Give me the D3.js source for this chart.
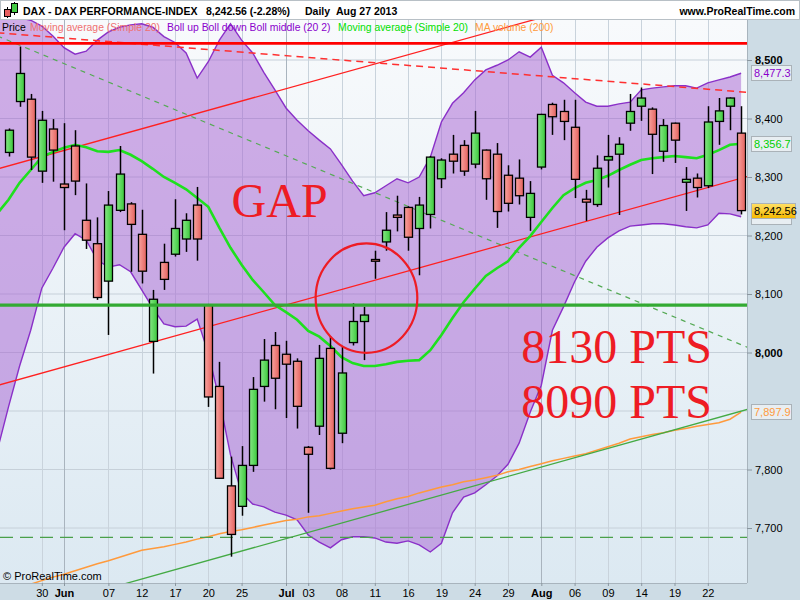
<!DOCTYPE html>
<html><head><meta charset="utf-8">
<script src="https://cdn.jsdelivr.net/npm/d3@7"></script>
<style>
body{margin:0;background:#fff;}
svg{display:block;font-family:"Liberation Sans",Arial,sans-serif;}
</style>
</head><body>
<svg id="c" width="800" height="600"></svg>
<script>
// ---------- DATA ----------
const dates = ["2013-05-24","2013-05-27","2013-05-28","2013-05-29","2013-05-30","2013-05-31",
"2013-06-03","2013-06-04","2013-06-05","2013-06-06","2013-06-07",
"2013-06-10","2013-06-11","2013-06-12","2013-06-13","2013-06-14",
"2013-06-17","2013-06-18","2013-06-19","2013-06-20","2013-06-21",
"2013-06-24","2013-06-25","2013-06-26","2013-06-27","2013-06-28",
"2013-07-01","2013-07-02","2013-07-03","2013-07-04","2013-07-05",
"2013-07-08","2013-07-09","2013-07-10","2013-07-11","2013-07-12",
"2013-07-15","2013-07-16","2013-07-17","2013-07-18","2013-07-19",
"2013-07-22","2013-07-23","2013-07-24","2013-07-25","2013-07-26",
"2013-07-29","2013-07-30","2013-07-31","2013-08-01","2013-08-02",
"2013-08-05","2013-08-06","2013-08-07","2013-08-08","2013-08-09",
"2013-08-12","2013-08-13","2013-08-14","2013-08-15","2013-08-16",
"2013-08-19","2013-08-20","2013-08-21","2013-08-22","2013-08-23",
"2013-08-26","2013-08-27"];
const open  = [null,8342,8429,8433,8310,8382,8288,8353,8226,8186,8122,8243,8254,8202,8019,8154,8168,8194,8252,8081,7942,7772,7737,7807,7942,8012,7997,7985,7838,7874,8007,7862,8017,8053,8159,8189,8235,8248,8212,8236,8297,8339,8354,8322,8346,8339,8303,8298,8231,8317,8424,8412,8385,8262,8253,8329,8339,8392,8421,8416,8344,8392,8291,8298,8285,8395,8421,8375];
const high  = [null,8383,8523,8442,8413,8399,8392,8380,8289,8231,8276,8353,8257,8244,8107,8186,8262,8238,8283,8083,7984,7822,7840,7958,8023,8035,8020,7990,7840,8013,8028,8010,8084,8078,8174,8240,8268,8250,8266,8336,8332,8372,8363,8413,8347,8358,8320,8330,8293,8408,8427,8432,8432,8278,8337,8372,8368,8442,8453,8419,8399,8393,8317,8306,8421,8435,8436,8421];
const low   = [null,8335,8420,8312,8290,8292,8209,8269,8177,8090,8030,8240,8138,8118,7964,8107,8164,8172,8157,7907,7784,7651,7721,7796,7916,7903,7888,7870,7726,7859,7800,7845,8012,7987,8126,8174,8207,8174,8132,8212,8281,8306,8302,8315,8261,8213,8241,8253,8208,8313,8372,8363,8264,8225,8249,8282,8235,8379,8396,8305,8326,8324,8242,8265,8281,8355,8380,8236];
const close = [null,8380,8477,8334,8397,8346,8282,8293,8192,8094,8252,8305,8219,8139,8091,8125,8212,8226,8194,7924,7785,7689,7807,7937,7987,7956,7980,7908,7826,7990,7802,7965,8053,8064,8156,8209,8231,8197,8252,8334,8329,8327,8310,8375,8297,8241,8255,8268,8272,8407,8403,8395,8296,8257,8315,8335,8356,8412,8435,8373,8388,8363,8296,8282,8394,8413,8435,8242.56];
const bollUp   = [8572,8572,8572,8568,8558,8541,8521,8510,8515,8534,8548,8556,8560,8562,8556,8540,8530,8512,8469,8497,8534,8562,8534,8512,8479,8449,8418,8397,8379,8363,8348,8321,8293,8268,8273,8285,8297,8290,8300,8334,8394,8426,8444,8466,8483,8491,8500,8514,8505,8522,8474,8461,8444,8428,8421,8421,8425,8428,8449,8452,8454,8456,8456,8452,8461,8466,8471,8477.3];
const bollDown = [7833,7907,7977,8038,8110,8144,8180,8203,8192,8158,8146,8150,8138,8107,8076,8049,8044,8045,8057,7999,7919,7825,7760,7741,7736,7727,7722,7714,7688,7676,7666,7680,7685,7685,7683,7676,7674,7678,7671,7659,7674,7726,7753,7760,7774,7789,7809,7845,7898,7944,8038,8078,8121,8156,8180,8196,8208,8216,8218,8220,8220,8218,8215,8213,8218,8238,8237,8232];
const ma20     = [8238,8261,8290,8312,8334,8343,8350,8355,8351,8344,8343,8346,8338,8327,8314,8300,8290,8279,8264,8249,8213,8179,8150,8124,8103,8081,8069,8056,8037,8027,8011,7992,7982,7977,7977,7980,7984,7986,7987,8004,8030,8059,8086,8109,8131,8144,8156,8179,8199,8223,8247,8269,8281,8290,8295,8302,8312,8321,8329,8332,8334,8336,8334,8332,8338,8346,8355,8356.7];
const maVol200 = [7589,7594,7599,7604,7610,7616,7621,7627,7633,7639,7644,7650,7656,7662,7665,7668,7672,7676,7681,7685,7690,7694,7697,7701,7705,7709,7713,7715,7719,7721,7725,7729,7733,7736,7739,7745,7750,7754,7760,7765,7770,7774,7779,7782,7786,7790,7796,7800,7805,7810,7815,7819,7823,7827,7833,7839,7845,7852,7856,7860,7863,7867,7870,7874,7877,7880,7886,7897.9];
const yGrid  = [7700,7800,7900,8000,8100,8200,8300,8400,8500];
const yTicks = [7700,7800,8000,8100,8200,8300,8400,8500];
const yBold = [8000,8500];
const xTickDates  = ["2013-05-30","2013-06-03","2013-06-07","2013-06-12","2013-06-17","2013-06-20","2013-06-25","2013-07-01","2013-07-03","2013-07-08","2013-07-11","2013-07-16","2013-07-19","2013-07-24","2013-07-29","2013-08-01","2013-08-06","2013-08-09","2013-08-14","2013-08-19","2013-08-22"];
const xTickLabels = ["30","Jun","07","12","17","20","25","Jul","03","08","11","16","19","24","29","Aug","06","09","14","19","22"];
const monthLabels = ["Jun","Jul","Aug"];
// drawn trend lines: [index position, value]
const redTrendUp   = [[0,8313.8],[68,8672.6]];
const redTrendLow  = [[0,7943.7],[68,8303.2]];
const redDashed    = [[0,8546.6],[68,8444.0]];
const greenDashed  = [[0,8541.1],[68,8005.5]];
const greenTrend   = [[11,7602.1],[68,7905.1]];
const levelRed = 8528.5, levelGreen = 8081, levelGreenDash = 7684;
const gapCircle = {i:33.25, v:8093, di:4.58, dv:93.5};
const notes = [{t:"GAP", i:21.1, v:8231.6},{t:"8130 PTS", i:47.2, v:7981.5},{t:"8090 PTS", i:47.2, v:7887.5}];

// ---------- LAYOUT ----------
const W=800,H=600, PL=0, PR=747, PT=20, PB=583;
const svg = d3.select("#c");
const xi = d3.scaleLinear().domain([0, dates.length-1]).range([-2.6, 741.1]);
const x = d => xi(dates.indexOf(d));
const y = d3.scaleLinear().domain([7700,8500]).range([528,60]);

const defs = svg.append("defs");
const bg = defs.append("linearGradient").attr("id","bg").attr("x1",0).attr("y1",0).attr("x2",0).attr("y2",1);
bg.append("stop").attr("offset","0%").attr("stop-color","#f8fafc");
bg.append("stop").attr("offset","100%").attr("stop-color","#dce9f2");
const gG = defs.append("linearGradient").attr("id","gG");
gG.append("stop").attr("offset","0%").attr("stop-color","#86e886");
gG.append("stop").attr("offset","100%").attr("stop-color","#3cc83c");
const gR = defs.append("linearGradient").attr("id","gR");
gR.append("stop").attr("offset","0%").attr("stop-color","#f9a4a0");
gR.append("stop").attr("offset","100%").attr("stop-color","#e4625e");
const gY = defs.append("linearGradient").attr("id","gY").attr("x1",0).attr("y1",0).attr("x2",0).attr("y2",1);
gY.append("stop").attr("offset","0%").attr("stop-color","#ffe066");
gY.append("stop").attr("offset","100%").attr("stop-color","#f5b800");
defs.append("clipPath").attr("id","clip").append("rect").attr("x",PL).attr("y",PT).attr("width",PR-PL).attr("height",PB-PT);

// panels
svg.append("rect").attr("x",0).attr("y",0).attr("width",W).attr("height",H).attr("fill","#cddce5");
svg.append("rect").attr("x",PL).attr("y",PT).attr("width",PR-PL).attr("height",PB-PT).attr("fill","url(#bg)");

const plot = svg.append("g").attr("clip-path","url(#clip)");

// grid
plot.selectAll("line.hg").data(yGrid).join("line")
  .attr("x1",PL).attr("x2",PR).attr("y1",d=>y(d)).attr("y2",d=>y(d))
  .attr("stroke","#c6d0d9").attr("stroke-width",1);
plot.selectAll("line.vg").data(xTickDates).join("line")
  .attr("x1",d=>Math.round(x(d))+0.5).attr("x2",d=>Math.round(x(d))+0.5).attr("y1",PT).attr("y2",PB)
  .attr("stroke",(d,i)=>monthLabels.includes(xTickLabels[i])?"#a9b4be":"#c9d3dc").attr("stroke-width",1);

// bollinger band
const idx = d3.range(dates.length);
plot.append("path").datum(idx)
  .attr("d", d3.area().x(i=>xi(i)).y0(i=>y(bollDown[i])).y1(i=>y(bollUp[i])))
  .attr("fill","rgb(165,95,210)").attr("fill-opacity",0.5);
plot.append("path").datum(idx).attr("d", d3.line().x(i=>xi(i)).y(i=>y(bollUp[i]))).attr("fill","none").attr("stroke","#8a30c8").attr("stroke-width",1.4);
plot.append("path").datum(idx).attr("d", d3.line().x(i=>xi(i)).y(i=>y(bollDown[i]))).attr("fill","none").attr("stroke","#8a30c8").attr("stroke-width",1.4);

// lines
const seg = d3.line().x(p=>xi(p[0])).y(p=>y(p[1]));
plot.append("path").datum(idx).attr("d", d3.line().x(i=>xi(i)).y(i=>y(maVol200[i]))).attr("fill","none").attr("stroke","#ff9a3c").attr("stroke-width",1.5);
plot.append("path").datum(greenTrend).attr("d",seg).attr("fill","none").attr("stroke","#44aa44").attr("stroke-width",1.3);
plot.append("line").attr("x1",PL).attr("x2",PR).attr("y1",y(levelGreenDash)).attr("y2",y(levelGreenDash))
  .attr("stroke","#4aa04a").attr("stroke-width",1.2).attr("stroke-dasharray","13,7");
plot.append("path").datum(greenDashed).attr("d",seg).attr("fill","none").attr("stroke","#55aa55").attr("stroke-width",1.2).attr("stroke-dasharray","5,5");
plot.append("path").datum(redDashed).attr("d",seg).attr("fill","none").attr("stroke","#ff3030").attr("stroke-width",1.5).attr("stroke-dasharray","7,5");
plot.append("path").datum(redTrendUp).attr("d",seg).attr("fill","none").attr("stroke","#ff2020").attr("stroke-width",1.3);
plot.append("path").datum(redTrendLow).attr("d",seg).attr("fill","none").attr("stroke","#ff2020").attr("stroke-width",1.3);
plot.append("path").datum(idx).attr("d", d3.line().x(i=>xi(i)).y(i=>y(ma20[i]))).attr("fill","none").attr("stroke","#1ee01e").attr("stroke-width",2.6);

// candles
const cdata = idx.filter(i=>open[i]!=null);
const cg = plot.append("g");
cg.selectAll("line.w").data(cdata).join("line")
  .attr("x1",i=>Math.round(xi(i))+0.5).attr("x2",i=>Math.round(xi(i))+0.5)
  .attr("y1",i=>y(high[i])).attr("y2",i=>y(low[i]))
  .attr("stroke","#000").attr("stroke-width",1.5);
cg.selectAll("rect.b").data(cdata).join("rect")
  .attr("x",i=>Math.round(xi(i))+0.5-4).attr("width",8)
  .attr("y",i=>y(Math.max(open[i],close[i])))
  .attr("height",i=>Math.max(1.5,Math.abs(y(open[i])-y(close[i]))))
  .attr("fill",i=>close[i]>=open[i]?"url(#gG)":"url(#gR)")
  .attr("stroke","#000").attr("stroke-width",1.3);

// horizontal levels
plot.append("line").attr("x1",PL).attr("x2",PR).attr("y1",y(levelRed)).attr("y2",y(levelRed)).attr("stroke","#ff0000").attr("stroke-width",2.6);
plot.append("line").attr("x1",PL).attr("x2",PR).attr("y1",y(levelGreen)).attr("y2",y(levelGreen)).attr("stroke","#33aa33").attr("stroke-width",3.2);

// circle
plot.append("ellipse").attr("cx",xi(gapCircle.i)).attr("cy",y(gapCircle.v))
  .attr("rx",xi(gapCircle.i+gapCircle.di)-xi(gapCircle.i)).attr("ry",y(gapCircle.v-gapCircle.dv)-y(gapCircle.v))
  .attr("fill","none").attr("stroke","#ee1c24").attr("stroke-width",2.2);

// notes
plot.selectAll("text.n").data(notes).join("text")
  .attr("x",d=>xi(d.i)).attr("y",d=>y(d.v)).text(d=>d.t)
  .attr("font-family","'Liberation Serif','Times New Roman',serif").attr("font-size",48)
  .attr("fill","#ee1c24");

// legend line
const leg = [["Price","#000",2],["Moving average (Simple 20)","#f07070",30],["Boll up Boll down Boll middle (20 2)","#8a00cc",167],["Moving average (Simple 20)","#00e000",338],["MA volume (200)","#ff9a3c",475]];
svg.selectAll("text.lg").data(leg).join("text").attr("x",d=>d[2]).attr("y",31).text(d=>d[0])
  .attr("fill",d=>d[1]).attr("font-size",10.4);

svg.append("text").attr("x",3).attr("y",580).text("© ProRealTime.com").attr("font-size",11).attr("fill","#000");

// borders
svg.append("line").attr("x1",PR+0.5).attr("x2",PR+0.5).attr("y1",PT).attr("y2",PB).attr("stroke","#a8b4bd");
svg.append("line").attr("x1",PL).attr("x2",PR).attr("y1",PB+0.5).attr("y2",PB+0.5).attr("stroke","#a8b4bd");

// y axis
const ya = svg.append("g").attr("transform",`translate(${PR},0)`)
  .call(d3.axisRight(y).tickValues(yTicks).tickSize(5).tickPadding(3).tickFormat(d3.format(",")));
ya.select(".domain").remove();
ya.selectAll(".tick line").attr("stroke","#8a969f");
ya.selectAll(".tick text").attr("font-size",11).attr("fill","#000").attr("font-family","'Liberation Sans',Arial,sans-serif")
  .attr("font-weight",d=>yBold.includes(d)?"bold":"normal");

// x axis
const xp = d3.scalePoint().domain(dates).range([-2.6,741.1]);
const xa = svg.append("g").attr("transform",`translate(0,${PB})`)
  .call(d3.axisBottom(xp).tickValues(xTickDates).tickSize(3).tickPadding(3).tickFormat((d,i)=>xTickLabels[i]));
xa.select(".domain").remove();
xa.selectAll(".tick line").attr("stroke","#8a969f");
xa.selectAll(".tick text").attr("font-size",11).attr("fill","#000").attr("font-family","'Liberation Sans',Arial,sans-serif")
  .attr("font-weight",(d,i)=>monthLabels.includes(xTickLabels[i])?"bold":"normal");

// value labels at right
const last = dates.length-1;
function vbox(v, txt, col, fill, w, showText){
  const g = svg.append("g");
  g.append("rect").attr("x",751.5).attr("y",Math.round(y(v))-7.5).attr("width",w).attr("height",15)
    .attr("fill",fill).attr("stroke","#aab2b8");
  if(showText) g.append("text").attr("x",754).attr("y",Math.round(y(v))+4).text(txt).attr("font-size",11).attr("fill",col);
}
vbox(bollDown[last], d3.format(",.1f")(bollDown[last]), "#8a00cc", "#e8eef2", 40, false);
vbox(bollUp[last], d3.format(",.1f")(bollUp[last]), "#8a00cc", "#e8eef2", 40, true);
vbox(ma20[last], d3.format(",.1f")(ma20[last]), "#00d000", "#e8eef2", 40, true);
vbox(maVol200[last], d3.format(",.1f")(maVol200[last]), "#ff9a3c", "#e8eef2", 40, true);
vbox(close[last], d3.format(",.2f")(close[last]), "#000", "url(#gY)", 44, true);

// header
svg.append("rect").attr("x",0.5).attr("y",0.5).attr("width",W-1).attr("height",19).attr("fill","#fff").attr("stroke","#b8c0c6");
const ic = svg.append("g");
ic.append("line").attr("x1",7.5).attr("x2",7.5).attr("y1",7).attr("y2",18).attr("stroke","#000");
ic.append("rect").attr("x",4.5).attr("y",9.5).attr("width",6).attr("height",7).attr("fill","#e86060").attr("stroke","#000");
ic.append("line").attr("x1",14.5).attr("x2",14.5).attr("y1",2).attr("y2",15).attr("stroke","#000");
ic.append("rect").attr("x",11.5).attr("y",3.5).attr("width",6).attr("height",9).attr("fill","#44cc44").attr("stroke","#000");
const hdr = [["DAX - DAX PERFORMANCE-INDEX",23],["8,242.56 (-2.28%)",206],["Daily",305],["Aug 27 2013",336]];
svg.selectAll("text.h").data(hdr).join("text").attr("x",d=>d[1]).attr("y",14.5).text(d=>d[0])
  .attr("font-size",10.5).attr("font-weight","bold").attr("fill","#000");
svg.append("text").attr("x",795).attr("y",14.5).attr("text-anchor","end").text("www.ProRealTime.com")
  .attr("font-size",10.5).attr("font-weight","bold").attr("fill","#000");
</script>
</body></html>
